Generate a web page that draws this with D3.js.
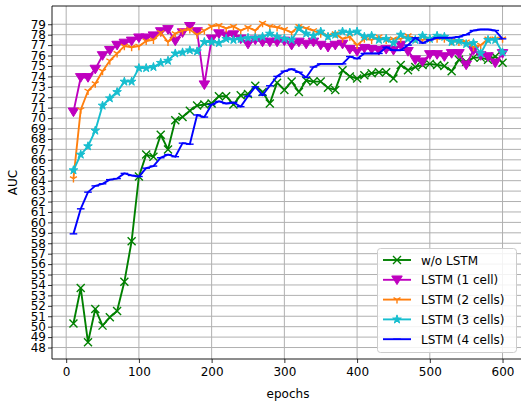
<!DOCTYPE html>
<html><head><meta charset="utf-8">
<script src="https://cdn.jsdelivr.net/npm/d3@7"></script>
<style>body{margin:0;background:#fff}svg{display:block;font-family:"DejaVu Sans",sans-serif}</style>
</head><body><svg id="c" width="521" height="403"></svg>
<script>
const epochs = d3.range(10, 601, 10);
const woLSTM = [50.3,53.7,48.5,51.7,50.1,50.9,51.5,54.3,58.2,64.4,
  66.5,66.3,68.4,67.0,69.8,70.1,70.7,71.2,71.3,71.4,
  72.1,72.1,71.3,72.2,72.3,73.1,72.5,71.4,73.4,72.7,
  73.5,72.5,73.6,73.5,73.5,72.9,72.7,74.6,74.0,73.8,
  74.1,74.3,74.4,74.4,73.8,75.1,74.6,74.9,75.1,75.2,
  75.1,75.0,74.5,75.6,75.4,75.8,75.8,75.6,75.9,75.3];
const lstm1 = [70.6,73.9,73.9,74.7,76.0,76.5,77.0,77.2,77.4,77.7,
  77.7,77.9,78.3,78.5,77.4,78.2,78.8,78.3,73.2,77.6,
  78.1,77.9,78.0,77.6,77.1,77.5,77.3,77.3,77.3,77.4,
  77.0,77.3,77.1,77.3,77.0,76.8,77.0,77.1,76.6,76.4,
  76.7,76.6,76.5,76.6,76.5,77.0,76.4,75.6,75.4,76.1,
  76.1,75.9,76.2,76.2,75.1,76.5,76.0,75.9,75.3,76.2];
const lstm2 = [64.2,70.8,72.6,73.3,74.5,75.5,76.2,76.9,76.8,76.9,
  77.4,77.5,78.2,77.3,78.1,78.4,78.5,78.0,78.4,78.8,
  78.9,78.6,78.8,78.4,78.7,78.4,79.1,78.8,78.7,78.5,
  78.2,78.8,78.6,78.4,78.1,77.9,78.1,77.6,77.8,77.0,
  77.6,77.5,77.8,77.5,77.6,77.6,77.9,77.6,77.5,77.6,
  77.6,77.6,77.4,77.3,77.3,76.8,77.0,77.6,77.6,77.6];
const lstm3 = [65.0,66.5,67.3,68.8,71.2,71.9,72.5,73.5,73.5,74.8,
  74.8,74.9,75.3,75.5,76.2,76.3,76.5,76.4,77.3,77.3,
  77.2,77.6,77.5,77.6,77.7,77.7,77.8,78.1,77.8,77.6,
  77.5,78.6,78.1,77.9,78.3,77.8,78.0,78.3,78.2,78.3,
  77.8,77.9,77.5,77.6,77.2,78.0,77.6,77.5,77.9,77.6,
  77.9,77.8,77.3,77.4,77.1,77.2,76.2,77.5,77.5,76.3];
const lstm4 = [58.9,61.3,62.9,63.5,63.7,64.1,64.2,64.7,64.5,64.4,
  65.2,65.4,66.2,66.5,66.3,67.6,67.5,70.3,70.1,71.3,
  71.6,71.4,71.5,71.1,72.1,73.0,72.2,73.1,74.0,74.5,
  74.7,74.4,73.9,74.9,75.2,75.2,75.2,75.2,75.9,75.7,
  76.2,76.2,76.2,76.8,76.5,76.5,77.0,77.7,77.2,77.5,
  77.7,77.7,77.7,77.8,78.0,78.4,78.5,78.5,78.4,77.6];
const seriesNames = ["w/o LSTM","LSTM (1 cell)","LSTM (2 cells)","LSTM (3 cells)","LSTM (4 cells)"];
const seriesColors = ["#008000","#bf00bf","#ff7f0e","#17becf","#0000ff"];
const seriesMarkers = ["x","tri","y","star","hline"];
const yTicks = d3.range(48, 80, 1);
const xTicks = [0,100,200,300,400,500,600];

const allSeries = [woLSTM, lstm1, lstm2, lstm3, lstm4];
const svg = d3.select("#c");
const L = 52, T = 6, R = 524, B = 359;
const x = d3.scaleLinear().domain([-19.5, 629.5]).range([L, R]);
const y = d3.scaleLinear().domain([46.9, 80.75]).range([B, T]);

// grid
const g = svg.append("g");
g.selectAll(".gx").data(xTicks).join("line")
  .attr("x1", d => x(d)).attr("x2", d => x(d)).attr("y1", T).attr("y2", B)
  .attr("stroke", "#b0b0b0").attr("stroke-width", 1);
g.selectAll(".gy").data(yTicks).join("line")
  .attr("x1", L).attr("x2", R).attr("y1", d => y(d)).attr("y2", d => y(d))
  .attr("stroke", "#b0b0b0").attr("stroke-width", 1);

function markerPath(type, s) {
  switch (type) {
    case "x": return `M${-s},${-s}L${s},${s}M${-s},${s}L${s},${-s}`;
    case "tri": { const h = s * 1.1; return `M${-h},${-s*0.8}L${h},${-s*0.8}L0,${s*1.0}Z`; }
    case "y": return `M0,0L0,${s}M0,0L${-s*0.87},${-s*0.5}M0,0L${s*0.87},${-s*0.5}`;
    case "star": return d3.symbol(d3.symbolStar, s * s * 1.3)();
    case "hline": return `M${-s},0L${s},0`;
  }
}
const markerSize = {x:4, tri:4.8, y:4, star:4.2, hline:3.8};
const lw = 1.9;

const clip = svg.append("clipPath").attr("id","cp").append("rect")
  .attr("x", L).attr("y", T).attr("width", R - L).attr("height", B - T);
const plot = svg.append("g").attr("clip-path", "url(#cp)");
const line = d3.line().x((d,i) => x(epochs[i])).y(d => y(d));
allSeries.forEach((vals, k) => {
  const col = seriesColors[k], mk = seriesMarkers[k];
  plot.append("path").datum(vals).attr("d", line).attr("fill", "none")
    .attr("stroke", col).attr("stroke-width", lw).attr("stroke-linejoin","round");
  const filled = (mk === "tri" || mk === "star");
  plot.selectAll(null).data(vals).join("path")
    .attr("transform", (d,i) => `translate(${x(epochs[i])},${y(d)})`)
    .attr("d", markerPath(mk, markerSize[mk]))
    .attr("fill", filled ? col : "none")
    .attr("stroke", col).attr("stroke-width", filled ? 1 : 1.4);
});

// axes
const xa = svg.append("g").attr("transform", `translate(0,${B})`)
  .call(d3.axisBottom(x).tickValues(xTicks).tickSize(4).tickPadding(4));
const ya = svg.append("g").attr("transform", `translate(${L},0)`)
  .call(d3.axisLeft(y).tickValues(yTicks).tickSize(4).tickPadding(2));
[xa, ya].forEach(a => {
  a.select(".domain").remove();
  a.selectAll("text").attr("font-size", 12).attr("fill", "#000").attr("font-family", '"DejaVu Sans",sans-serif');
  a.selectAll("line").attr("stroke", "#000").attr("stroke-width", 0.8);
});
svg.append("line").attr("x1", L).attr("x2", L).attr("y1", T).attr("y2", B).attr("stroke","#000").attr("stroke-width",0.9);
svg.append("line").attr("x1", L).attr("x2", R).attr("y1", B).attr("y2", B).attr("stroke","#000").attr("stroke-width",0.9);
svg.append("line").attr("x1", L).attr("x2", R).attr("y1", T).attr("y2", T).attr("stroke","#000").attr("stroke-width",0.9);

svg.append("text").attr("x", (L + R) / 2).attr("y", 398).attr("text-anchor", "middle")
  .attr("font-size", 12).text("epochs");
svg.append("text").attr("transform", `translate(17,${(T + B) / 2}) rotate(-90)`)
  .attr("text-anchor", "middle").attr("font-size", 12).text("AUC");

// legend
const lg = svg.append("g");
lg.append("rect").attr("x", 377.5).attr("y", 248.5).attr("width", 139).attr("height", 104)
  .attr("rx", 3).attr("fill", "#fff").attr("fill-opacity", 0.85).attr("stroke", "#cccccc");
seriesNames.forEach((n, k) => {
  const yy = 260 + k * 19.8;
  lg.append("line").attr("x1", 383).attr("x2", 411).attr("y1", yy).attr("y2", yy)
    .attr("stroke", seriesColors[k]).attr("stroke-width", lw);
  const mk = seriesMarkers[k], filled = (mk === "tri" || mk === "star");
  lg.append("path").attr("transform", `translate(397,${yy})`).attr("d", markerPath(mk, markerSize[mk]))
    .attr("fill", filled ? seriesColors[k] : "none").attr("stroke", seriesColors[k]).attr("stroke-width", filled ? 1 : 1.4);
  lg.append("text").attr("x", 421).attr("y", yy + 4.5).attr("font-size", 12).text(n);
});
</script></body></html>
